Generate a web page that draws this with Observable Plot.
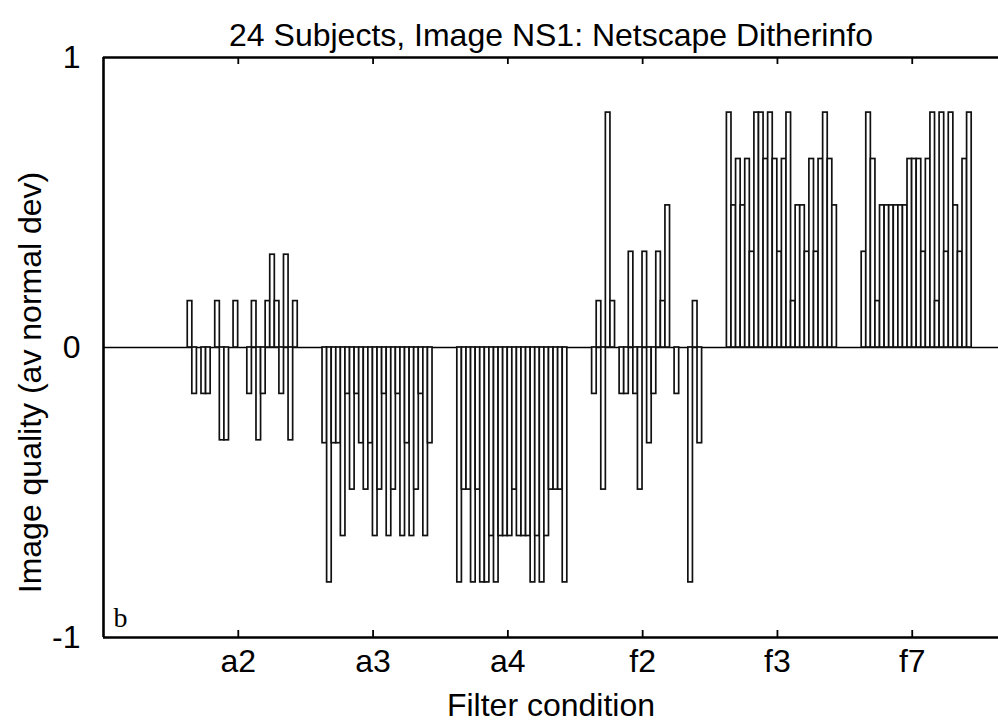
<!DOCTYPE html>
<html>
<head>
<meta charset="utf-8">
<script src="https://cdn.jsdelivr.net/npm/d3@7"></script>
<script src="https://cdn.jsdelivr.net/npm/@observablehq/plot@0.6"></script>
<style>
  html, body { margin: 0; padding: 0; background: #fff; }
</style>
</head>
<body>
<div id="chart"></div>
<script>
const title = "24 Subjects, Image NS1: Netscape Ditherinfo";
const xLabel = "Filter condition";
const yLabel = "Image quality (av normal dev)";
const panelLabel = "b";
const categories = ["a2", "a3", "a4", "f2", "f3", "f7"];
const yTicks = [-1, 0, 1];

// 24 subjects per filter condition (av normal deviate)
const a2 = [0.16, -0.16, 0, -0.16, -0.16, 0, 0.16, -0.32, -0.32, 0, 0.16, 0, 0, -0.16, 0.16, -0.32, -0.16, 0.16, 0.32, 0.16, -0.16, 0.32, -0.32, 0.16];
const a3 = [-0.33, -0.81, -0.33, -0.33, -0.65, -0.16, -0.49, -0.16, -0.33, -0.49, -0.33, -0.65, -0.49, -0.16, -0.65, -0.49, -0.16, -0.65, -0.33, -0.65, -0.49, -0.16, -0.65, -0.33];
const a4 = [-0.81, -0.49, -0.49, -0.81, -0.49, -0.81, -0.81, -0.65, -0.81, -0.65, -0.65, -0.65, -0.49, -0.65, -0.65, -0.65, -0.81, -0.65, -0.81, -0.65, -0.49, -0.49, -0.49, -0.81];
const f2 = [-0.16, 0.16, -0.49, 0.81, 0.16, 0, -0.16, -0.16, 0.33, -0.16, -0.49, 0.33, -0.33, -0.16, 0.33, 0.16, 0.49, 0, -0.16, 0, 0, -0.81, 0.16, -0.33];
const f3 = [0.81, 0.49, 0.65, 0.49, 0.65, 0.33, 0.81, 0.81, 0.65, 0.81, 0.65, 0.33, 0.65, 0.81, 0.16, 0.49, 0.49, 0.33, 0.65, 0.33, 0.65, 0.81, 0.65, 0.49];
const f7 = [0.33, 0.81, 0.65, 0.16, 0.49, 0.49, 0.49, 0.49, 0.49, 0.49, 0.65, 0.65, 0.65, 0.33, 0.65, 0.81, 0.16, 0.81, 0.33, 0.81, 0.49, 0.33, 0.65, 0.81];

const series = [a2, a3, a4, f2, f3, f7];

// layout of the subject bars within each condition (in x units, 1 unit = one condition)
const slot = 0.034;
const groupStart = -0.375;

const bars = series.flatMap((vals, g) =>
  vals.map((v, i) => ({g, i, v, cat: categories[g]}))
).filter(d => d.v !== 0);

const xTicks = categories.map((c, i) => i + 1);
const yDomain = [-1, 1];

const chart = Plot.plot({
  width: 998,
  height: 721,
  marginTop: 57,
  marginBottom: 84,
  marginLeft: 103,
  marginRight: 0,
  x: {domain: [0, 6.64], label: null},
  y: {domain: yDomain, label: null},
  style: {
    fontFamily: "'Liberation Sans', Arial, Helvetica, sans-serif",
    fontSize: "32px",
    background: "#fff",
    color: "#000",
    overflow: "visible"
  },
  marks: [
    Plot.ruleY([0], {stroke: "#000", strokeWidth: 1.3}),
    Plot.rect(bars, {
      x1: d => d.g + 1 + groupStart + d.i * slot,
      x2: d => d.g + 1 + groupStart + (d.i + 1) * slot,
      y1: 0,
      y2: d => d.v,
      fill: "#fff",
      stroke: "#111",
      strokeWidth: 1.7
    }),
    Plot.ruleY(yDomain, {stroke: "#000", strokeWidth: 2.6}),
    Plot.ruleX([0], {stroke: "#000", strokeWidth: 2.6}),
    Plot.ruleX(xTicks, {y1: yDomain[0], y2: yDomain[0], insetBottom: 7, stroke: "#000", strokeWidth: 1.8}),
    Plot.ruleX(xTicks, {y1: yDomain[1], y2: yDomain[1], insetTop: 7, stroke: "#000", strokeWidth: 1.8}),
    Plot.axisX({
      ticks: xTicks,
      tickFormat: d => categories[d - 1],
      tickSize: 0,
      tickPadding: 12,
      label: null
    }),
    Plot.axisY({
      ticks: yTicks,
      tickFormat: d => String(d),
      tickSize: 0,
      tickPadding: 23,
      label: null
    }),
    Plot.text([title], {
      text: d => d, frameAnchor: "top", textAnchor: "middle", lineAnchor: "middle", dy: -22
    }),
    Plot.text([xLabel], {
      text: d => d, frameAnchor: "bottom", textAnchor: "middle", lineAnchor: "middle", dy: 68
    }),
    Plot.text([yLabel], {
      text: d => d, frameAnchor: "left", textAnchor: "middle", lineAnchor: "middle", rotate: -90, dx: -73, dy: 35
    }),
    Plot.text([panelLabel], {
      text: d => d, frameAnchor: "bottom-left", textAnchor: "middle", lineAnchor: "middle",
      dx: 17, dy: -19, fontFamily: "'Liberation Serif', 'Times New Roman', serif", fontSize: 28
    })
  ]
});

document.getElementById("chart").appendChild(chart);
</script>
</body>
</html>
